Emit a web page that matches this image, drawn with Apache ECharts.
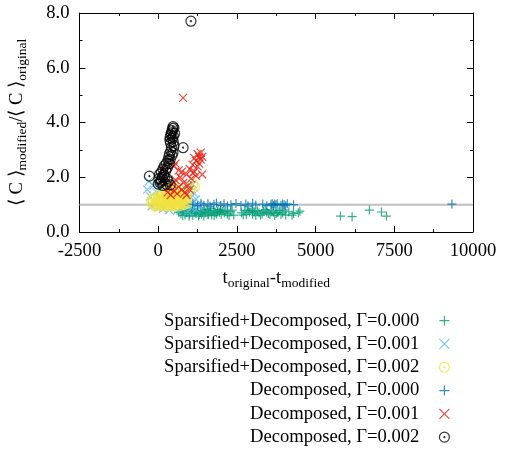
<!DOCTYPE html>
<html>
<head>
<meta charset="utf-8">
<script src="https://cdn.jsdelivr.net/npm/echarts@6/dist/echarts.min.js"></script>
<style>
  html, body { margin: 0; padding: 0; background: #fff; }
  #chart { width: 505px; height: 455px; }
</style>
</head>
<body>
<div id="chart"></div>
<script>
// 数据: [t_original - t_modified, <C>_modified / <C>_original]
var sparsG0 = [
  [650,0.72],[720,0.66],[800,0.78],[850,0.62],[900,0.70],[950,0.82],[1000,0.66],[1050,0.74],
  [1100,0.60],[1150,0.78],[1200,0.68],[1250,0.84],[1300,0.64],[1350,0.72],[1400,0.76],[1450,0.58],
  [1500,0.70],[1550,0.80],[1600,0.66],[1650,0.74],[1700,0.62],[1750,0.78],[1800,0.70],[1850,0.66],
  [1900,0.82],[1950,0.72],[2000,0.64],[2050,0.76],[2100,0.70],[2200,0.66],[2300,0.74],[2400,0.62],
  [2650,0.70],[2750,0.78],[2800,0.64],[2900,0.72],[2950,0.84],[3000,0.66],[3050,0.74],[3100,0.60],
  [3150,0.78],[3200,0.70],[3300,0.66],[3350,0.76],[3450,0.72],[3550,0.64],[3650,0.74],[3750,0.68],
  [3850,0.78],[3950,0.70],[4050,0.62],[4150,0.74],[4300,0.68],[4450,0.70],
  [700,0.80],[780,0.60],[880,0.74],[980,0.58],[1080,0.84],[1180,0.72],[1280,0.58],[1380,0.66],
  [1480,0.82],[1580,0.62],[1680,0.86],[1780,0.60],[1880,0.74],[1980,0.80],[2150,0.76],[2250,0.60],
  [2350,0.80],[2700,0.62],[2850,0.80],[3000,0.76],[3250,0.62],[3400,0.82],[3500,0.68],[3600,0.80],
  [3700,0.60],[3800,0.72],[3900,0.64],[4000,0.80],[4250,0.62],[4500,0.76],
  [5790,0.58],[6160,0.56],[6710,0.80],[7090,0.73],[7250,0.58]
];
var sparsG1 = [
  [-350,1.55],[-300,1.85],[-250,1.30],[-200,0.95],[-150,1.70],[-100,1.10],[-50,1.45],[0,0.90],
  [0,1.95],[50,1.25],[100,1.60],[150,0.85],[200,1.35],[250,1.05],[300,1.75],[350,0.80],
  [400,1.20],[450,1.50],[500,0.90],[550,1.30],[600,0.78],[650,1.10],[700,1.45],[750,0.85],
  [800,1.20],[850,1.60],[900,0.95],[950,0.75],[1000,1.30],[1050,0.88],[1100,1.05],[1150,1.40],
  [1200,0.82],[1250,1.00],[1300,0.92],[1000,1.70],[1100,1.75],[1200,1.20]
];
var sparsG2 = [
  [-200,1.05],[-150,1.15],[-120,0.98],[-100,1.25],[-50,1.08],[0,1.18],[0,0.98],[50,1.30],
  [50,1.05],[100,1.12],[100,0.96],[150,1.22],[150,1.02],[200,1.10],[200,1.35],[250,0.98],
  [250,1.18],[300,1.06],[300,1.28],[350,1.14],[350,0.97],[400,1.20],[400,1.04],[450,1.10],
  [450,1.30],[500,1.00],[500,1.18],[550,1.08],[600,1.25],[600,1.00],[650,1.12],[700,1.05],
  [700,1.22],[750,1.10],[800,1.00],[800,1.18],[850,1.10],[900,1.05],
  [-180,1.20],[-80,0.95],[20,1.10],[80,1.20],[130,1.32],[180,0.98],[230,1.25],[280,1.12],
  [330,1.02],[380,1.30],[420,0.95],[480,1.22],[530,0.96],[580,1.15],[630,1.30],[680,0.97],
  [730,1.15],[780,1.28],[830,1.02],[880,1.20],[750,1.40],[600,1.45],[450,1.45],
  [350,1.55],[450,1.65],[250,1.75],[550,1.50],[150,1.45],[650,1.60],[1000,1.55],[1100,1.75],
  [1150,1.65],[900,1.40]
];
var decG0 = [
  [1100,1.02],[1250,0.96],[1360,1.05],[1450,0.98],[1580,1.03],[1650,0.94],[1770,1.01],[1850,1.06],
  [1990,0.97],[2090,1.03],[2200,0.95],[2310,1.00],[2470,1.04],[2630,0.97],[2785,1.02],[2850,0.95],
  [3000,1.05],[3100,0.99],[3320,1.02],[3450,0.96],[3580,1.00],[3620,1.04],[3660,0.97],[3700,1.02],
  [3740,0.99],[3780,1.03],[3900,0.98],[3950,1.02],[4000,1.00],[4050,0.96],[4100,1.03],[4300,1.00],
  [9330,1.02]
];
var decG1 = [
  [300,1.45],[350,1.60],[400,1.35],[450,1.75],[500,1.50],[550,1.90],[600,1.40],[650,1.65],
  [700,2.00],[750,1.55],[800,1.80],[850,1.45],[900,2.10],[950,1.70],[1000,2.30],[1050,1.95],
  [1100,2.45],[1150,2.20],[1200,2.60],[1250,2.40],[1300,2.75],[1100,2.15],[1000,1.55],[900,1.35],
  [1200,2.05],[1300,2.50],[1350,2.65],[1400,2.10],[500,2.40],[550,2.50],[150,2.30],[1150,2.70],
  [1250,2.85],[750,2.20],[650,2.25],[1400,2.75],[1350,2.90],[790,4.90]
];
var decG2 = [
  [1040,7.70],[790,3.08],[-280,2.04],
  [470,3.85],[460,3.78],[440,3.70],[420,3.62],[400,3.55],[380,3.45],[370,3.35],[390,3.25],
  [420,3.10],[400,2.95],[360,2.85],[340,2.75],[310,2.62],[260,2.50],[200,2.42],[150,2.30],
  [100,2.18],[40,2.10],[20,1.95],[60,1.80],[150,1.70],[250,1.75],[320,1.85],[380,1.72],
  [280,1.95],[200,2.00],
  [500,3.80],[520,3.60],[480,3.50],[450,3.40],[480,3.30],[500,3.15],[470,2.90],[440,2.80],
  [380,2.65],[350,2.50],[290,2.35],[240,2.25],[180,2.10],[120,2.00],[80,1.85],[0,1.75],[100,1.90]
];
var refLine = [[-2500, 1], [10000, 1]];

var names = [
  'Sparsified+Decomposed, Γ=0.000',
  'Sparsified+Decomposed, Γ=0.001',
  'Sparsified+Decomposed, Γ=0.002',
  'Decomposed, Γ=0.000',
  'Decomposed, Γ=0.001',
  'Decomposed, Γ=0.002'
];
var colors = ['#009e73', '#56b4e9', '#f0e442', '#0072b2', '#e51e10', '#000000'];

// 符号: 加号 / 叉号 / 带点圆
var PLUS = 'path://M0 5 L10 5 M5 0 L5 10';
var CROSS = 'path://M0 0 L10 10 M0 10 L10 0';
var DOTC = 'path://M0 5 A5 5 0 1 1 10 5 A5 5 0 1 1 0 5 Z M4.5 5 A0.5 0.5 0 1 1 5.5 5 A0.5 0.5 0 1 1 4.5 5 Z';

var font = 'Liberation Serif';
var fs = 18.6;

function pts(name, data, symbol, size, color) {
  return {
    name: name,
    type: 'scatter',
    data: data,
    symbol: symbol,
    symbolSize: size,
    itemStyle: { color: 'rgba(0,0,0,0)', borderColor: color, borderWidth: 1.2 },
    emphasis: { disabled: true },
    z: 3
  };
}

function valueAxis(pos, min, max, interval, show) {
  return {
    type: 'value',
    position: pos,
    min: min,
    max: max,
    interval: interval,
    axisLine: { show: true, onZero: false, lineStyle: { color: '#000', width: 1 } },
    axisTick: { show: true, inside: true, length: 6, lineStyle: { color: '#000' } },
    minorTick: { show: true, splitNumber: 2, length: 3, lineStyle: { color: '#000' } },
    splitLine: { show: false },
    axisLabel: { show: show, margin: 10, color: '#000', fontFamily: font, fontSize: fs }
  };
}

var chart = echarts.init(document.getElementById('chart'));

var xBottom = valueAxis('bottom', -2500, 10000, 2500, true);
xBottom.axisLabel.formatter = function (v) { return String(v); };
xBottom.name = 't{s|original}-t{s|modified}';
xBottom.nameLocation = 'middle';
xBottom.nameGap = 34;
xBottom.nameTextStyle = {
  color: '#000', fontFamily: font, fontSize: fs,
  rich: { s: { fontFamily: font, fontSize: 13.5, padding: [10, 0, 0, 0] } }
};

var yLeft = valueAxis('left', 0, 8, 2, true);
yLeft.axisLabel.formatter = function (v) { return v.toFixed(1); };
yLeft.name = '⟨ C ⟩{s|modified}/⟨ C ⟩{s|original}';
yLeft.nameLocation = 'middle';
yLeft.nameRotate = 90;
yLeft.nameGap = 50;
yLeft.nameTextStyle = {
  color: '#000', fontFamily: font, fontSize: fs,
  rich: { s: { fontFamily: font, fontSize: 13.5, padding: [10, 0, 0, 0] } }
};

var option = {
  backgroundColor: '#fff',
  animation: false,
  grid: { left: 78, right: 32, top: 13, bottom: 223 },
  xAxis: [xBottom, valueAxis('top', -2500, 10000, 2500, false)],
  yAxis: [yLeft, valueAxis('right', 0, 8, 2, false)],
  legend: {
    data: names,
    orient: 'vertical',
    right: 55,
    top: 309,
    height: 146,
    padding: 0,
    align: 'right',
    itemWidth: 10,
    itemHeight: 10,
    itemGap: 0,
    selectedMode: false,
    itemStyle: { borderWidth: 1.2 },
    textStyle: { color: '#000', fontFamily: font, fontSize: fs, lineHeight: 23.3, padding: [0, 15, 0, 0] }
  },
  series: [
    {
      name: 'ref',
      type: 'line',
      data: refLine,
      symbol: 'none',
      silent: true,
      lineStyle: { color: '#c0c0c0', width: 2 },
      z: 1
    },
    pts(names[0], sparsG0, PLUS, 9, colors[0]),
    pts(names[1], sparsG1, CROSS, 8, colors[1]),
    pts(names[2], sparsG2, DOTC, 10, colors[2]),
    pts(names[3], decG0, PLUS, 9, colors[3]),
    pts(names[4], decG1, CROSS, 8, colors[4]),
    pts(names[5], decG2, DOTC, 10, colors[5])
  ]
};

chart.setOption(option);
</script>
</body>
</html>
